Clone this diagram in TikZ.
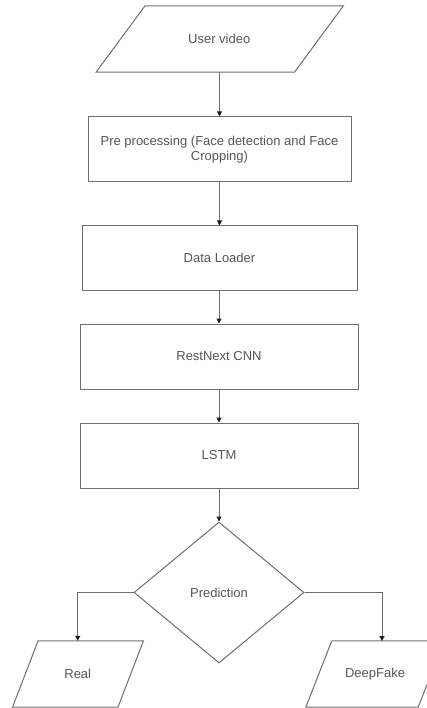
\documentclass[tikz,border=0pt]{standalone}
\usepackage{fontspec}
\setmainfont{Liberation Sans}
\usetikzlibrary{arrows.meta,shapes.geometric}
\definecolor{linec}{RGB}{110,110,110}
\definecolor{textc}{RGB}{85,85,85}
\definecolor{tipc}{RGB}{30,30,30}
\begin{document}
\begin{tikzpicture}[x=1pt,y=-1pt,
  every node/.style={font=\fontsize{13}{15}\selectfont, text=textc},
  procbox/.style={draw=linec, line width=1pt, rectangle, inner sep=0pt, align=center},
  iobox/.style={rectangle, inner sep=0pt, align=center},
  decbox/.style={draw=linec, line width=1pt, diamond, inner sep=0pt, minimum width=170pt, minimum height=141pt},
  slanted/.style={draw=linec, line width=1pt, line join=miter},
  conn/.style={draw=linec, line width=1pt, -{Triangle[width=5pt,length=5pt,color=tipc]}}
]
\useasboundingbox (0,0) rectangle (427,708);

% User video parallelogram
\node[iobox, minimum width=198pt, minimum height=66pt] (uv) at (219.25,39) {User video};
\draw[slanted] ([xshift=25pt]uv.north west) -- ([xshift=25pt]uv.north east)
  -- ([xshift=-24pt]uv.south east) -- ([xshift=-24pt]uv.south west) -- cycle;

\node[procbox, minimum width=263pt, minimum height=65pt] (pre) at (219.5,149.5)
  {Pre processing (Face detection and Face\\Cropping)};
\node[procbox, minimum width=275pt, minimum height=64pt] (dl) at (219.5,258) {Data Loader};
\node[procbox, minimum width=278pt, minimum height=65pt] (cnn) at (219,356.5) {RestNext CNN};
\node[procbox, minimum width=278pt, minimum height=65pt] (lstm) at (219,455.5) {LSTM};
\node[decbox] (pred) at (219,592.5) {Prediction};

% Real
\node[iobox, minimum width=105pt, minimum height=66pt] (real) at (77.75,674) {Real};
\draw[slanted] ([xshift=13pt]real.north west) -- ([xshift=13pt]real.north east)
  -- ([xshift=-12.5pt]real.south east) -- ([xshift=-12.5pt]real.south west) -- cycle;

% DeepFake
\node[iobox, minimum width=112pt, minimum height=66pt] (df) at (375,674) {DeepFake};
\draw[slanted] ([xshift=13pt]df.north west) -- ([xshift=13pt]df.north east)
  -- ([xshift=-13pt]df.south east) -- ([xshift=-13pt]df.south west) -- cycle;
\coordinate (dftop) at (382,641);

\draw[conn] (uv.south -| pre.north) -- (pre.north);
\draw[conn] (pre.south -| dl.north) -- (dl.north);
\draw[conn] (dl.south -| cnn.north) -- (cnn.north);
\draw[conn] (cnn.south) -- (lstm.north);
\draw[conn] (lstm.south) -- (pred.north);
\draw[conn] (pred.west) -| (real.north);
\draw[conn] (pred.east) -| (dftop);
\end{tikzpicture}
\end{document}
